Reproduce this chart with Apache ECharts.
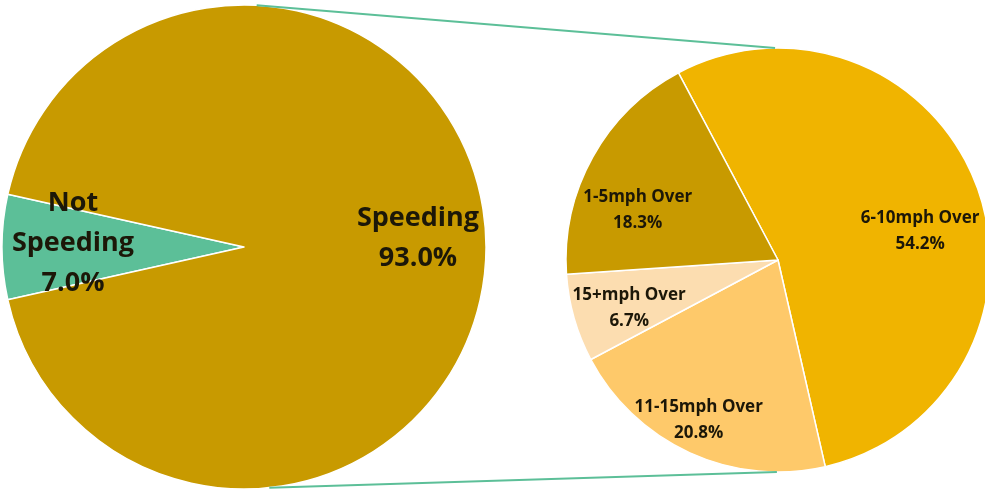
<!DOCTYPE html>
<html>
<head>
<meta charset="utf-8">
<script src="https://cdn.jsdelivr.net/npm/echarts@6/dist/echarts.min.js"></script>
<style>
  html, body { margin: 0; padding: 0; background: #ffffff; }
  #chart { width: 985px; height: 491px; }
</style>
</head>
<body>
<div id="chart"></div>
<script>
// ---- data ----
var mainCategories = ['Not Speeding', 'Speeding'];
var mainValues = [7.0, 93.0];
var detailCategories = ['6-10mph Over', '11-15mph Over', '15+mph Over', '1-5mph Over'];
var detailValues = [54.2, 20.8, 6.7, 18.3];

// ---- styles / layout ----
var mainColors = ['#5CBF98', '#C89A00'];
var detailColors = ['#F0B400', '#FEC96A', '#FCDDB0', '#C89A00'];
var mainCenter = [244, 247], mainRadius = 242;
var detailCenter = [778, 260], detailRadius = 212;
var mainLabelShift = [[-47, -4], [50, -9]];
var detailLabelShift = [[40, 9], [-34, 61], [-44, 18], [-45, 3]];
var textColor = '#1c1708';
var fontFamily = '"Open Sans", "DejaVu Sans", sans-serif';

function fmt(p) {
  return p.name.replace('Not ', 'Not\n') + '\n' + p.value.toFixed(1) + '%';
}
function pt(c, r, deg) {
  var a = deg * Math.PI / 180;
  return [c[0] + r * Math.cos(a), c[1] - r * Math.sin(a)];
}
var lt = pt(mainCenter, mainRadius, 87), rt = pt(detailCenter, detailRadius, 90.8);
var lb = pt(mainCenter, mainRadius, -84), rb = pt(detailCenter, detailRadius, -90.3);

var chart = echarts.init(document.getElementById('chart'), null, { renderer: 'canvas' });
chart.setOption({
  animation: false,
  backgroundColor: '#ffffff',
  graphic: [
    { type: 'line', z: 10, shape: { x1: lt[0], y1: lt[1], x2: rt[0], y2: rt[1] }, style: { stroke: '#5CBF98', lineWidth: 2 } },
    { type: 'line', z: 10, shape: { x1: lb[0], y1: lb[1], x2: rb[0], y2: rb[1] }, style: { stroke: '#5CBF98', lineWidth: 2 } }
  ],
  series: [
    {
      type: 'pie',
      center: mainCenter,
      radius: mainRadius,
      startAngle: 192.6,
      clockwise: true,
      silent: true,
      emphasis: { disabled: true },
      itemStyle: { borderColor: '#ffffff', borderWidth: 1.5 },
      label: {
        show: true, position: 'inside', formatter: fmt,
        color: textColor, fontFamily: fontFamily, fontWeight: 'bold',
        fontSize: 27, lineHeight: 40, align: 'center'
      },
      labelLine: { show: false },
      labelLayout: function (p) { var s = mainLabelShift[p.dataIndex]; return { dx: s[0], dy: s[1] }; },
      data: mainCategories.map(function (n, i) {
        return { name: n, value: mainValues[i], itemStyle: { color: mainColors[i] } };
      })
    },
    {
      type: 'pie',
      center: detailCenter,
      radius: detailRadius,
      startAngle: 118,
      clockwise: true,
      silent: true,
      emphasis: { disabled: true },
      itemStyle: { borderColor: '#ffffff', borderWidth: 1.5 },
      label: {
        show: true, position: 'inside', formatter: fmt,
        color: textColor, fontFamily: fontFamily, fontWeight: 'bold',
        fontSize: 17, lineHeight: 26, align: 'center'
      },
      labelLine: { show: false },
      labelLayout: function (p) { var s = detailLabelShift[p.dataIndex]; return { dx: s[0], dy: s[1] }; },
      data: detailCategories.map(function (n, i) {
        return { name: n, value: detailValues[i], itemStyle: { color: detailColors[i] } };
      })
    }
  ]
});
</script>
</body>
</html>
